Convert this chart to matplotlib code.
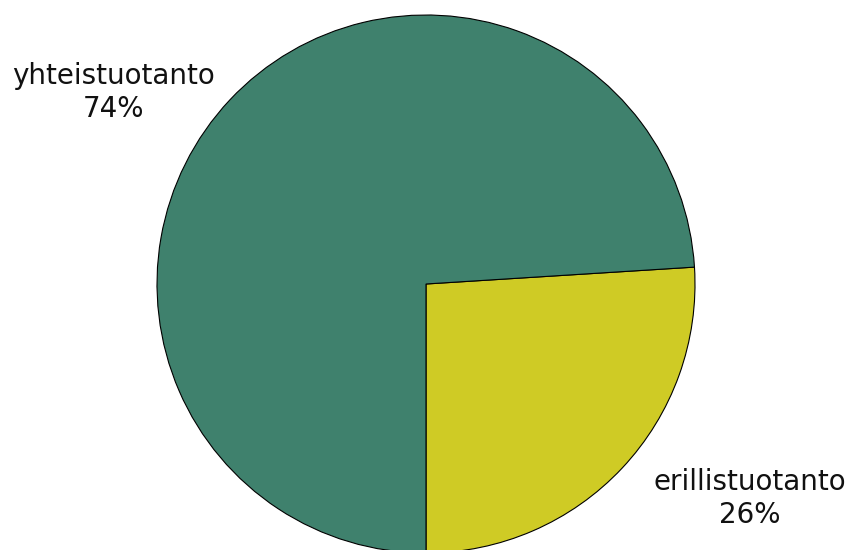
import matplotlib.pyplot as plt

labels = ["erillistuotanto", "yhteistuotanto"]
shares = [26, 74]
colors = ["#cfcb25", "#3f816d"]

fig = plt.figure(figsize=(8.5, 5.5), dpi=100)
ax = fig.add_axes([0, 0, 1, 1])

r_px = 269.0
cx, cy = 426.0, 284.0

ax.pie(shares, colors=colors, startangle=-90, counterclock=True, radius=1,
       wedgeprops=dict(edgecolor="black", linewidth=0.8))

ax.set_xlim(-cx / r_px, (850 - cx) / r_px)
ax.set_ylim(-(550 - cy) / r_px, cy / r_px)
ax.set_aspect("equal")
ax.axis("off")

# label anchor: horizontal centre and baseline of the last line, in pixels
label_pos = [(750, 523), (113, 117)]
for name, val, (px, py) in zip(labels, shares, label_pos):
    ax.text((px - cx) / r_px, (cy - py) / r_px, f"{name}\n{val}%",
            ha="center", va="baseline", fontsize=20, linespacing=1.22,
            color="#111111")

fig.savefig("out.png", dpi=100)
